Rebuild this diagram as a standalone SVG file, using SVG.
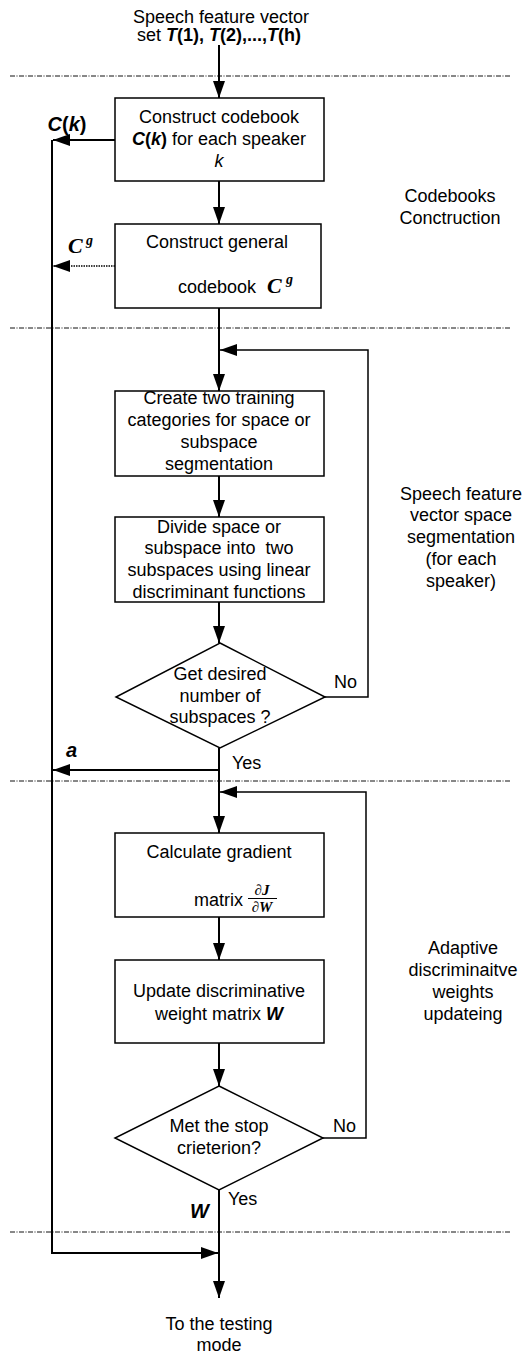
<svg xmlns="http://www.w3.org/2000/svg" width="527" height="1355" viewBox="0 0 527 1355">
<style>
text{font-family:"Liberation Sans",Arial,Helvetica,sans-serif;font-size:18px;fill:#000;text-anchor:middle}
.box{fill:#fff;stroke:#000;stroke-width:1.5}
.ln{fill:none;stroke:#000;stroke-width:2}
.thin{fill:none;stroke:#000;stroke-width:1.5}
.sep{fill:none;stroke:#111;stroke-width:1;stroke-dasharray:5 1.5 1 1.5}
.bi{font-weight:bold;font-style:italic}
.b{font-weight:bold}
.tm{font-family:"Liberation Serif","Times New Roman",serif;font-weight:bold;font-style:italic}
.l{text-anchor:start}
</style>
<defs>
<marker id="ah" markerUnits="userSpaceOnUse" markerWidth="17" markerHeight="12" refX="17" refY="6" orient="auto">
<path d="M0,0 L17,6 L0,12 z" fill="#000"/>
</marker>
</defs>
<g id="separators">
<line class="sep" x1="10" y1="76" x2="510" y2="76"/>
<line class="sep" x1="10" y1="328" x2="510" y2="328"/>
<line class="sep" x1="10" y1="781" x2="510" y2="781"/>
<line class="sep" x1="10" y1="1232" x2="510" y2="1232"/>
</g>
<g id="connectors">
<path class="ln" d="M219,45 V98" marker-end="url(#ah)"/>
<path class="ln" d="M219,181 V224" marker-end="url(#ah)"/>
<path class="ln" d="M219,308 V391" marker-end="url(#ah)"/>
<path class="thin" d="M325,697 H368 V350 H220" marker-end="url(#ah)"/>
<path class="ln" d="M219,476 V517" marker-end="url(#ah)"/>
<path class="ln" d="M219,602 V643" marker-end="url(#ah)"/>
<path class="ln" d="M219,748 V833" marker-end="url(#ah)"/>
<path class="ln" d="M219,770 H53" marker-end="url(#ah)"/>
<path class="thin" d="M323,1138 H366 V792 H220" marker-end="url(#ah)"/>
<path class="ln" d="M219,917 V960" marker-end="url(#ah)"/>
<path class="ln" d="M219,1043 V1086" marker-end="url(#ah)"/>
<path class="ln" d="M219,1190 V1298" marker-end="url(#ah)"/>
<path class="ln" d="M52,140 V1253 H218" marker-end="url(#ah)"/>
<path class="ln" d="M115,140 H53" marker-end="url(#ah)"/>
<path fill="none" stroke="#000" stroke-width="1.5" stroke-dasharray="1.5 1" d="M115,266 H53" marker-end="url(#ah)"/>
</g>
<g id="input">
<text x="221" y="23">Speech feature vector</text>
<text x="219" y="41">set <tspan class="bi">T</tspan><tspan class="b">(1), </tspan><tspan class="bi">T</tspan><tspan class="b">(2),...,</tspan><tspan class="bi">T</tspan><tspan class="b">(h)</tspan></text>
</g>
<g id="label-ck">
<text x="67" y="131" style="font-size:20px"><tspan class="bi">C</tspan><tspan class="b">(</tspan><tspan class="bi">k</tspan><tspan class="b">)</tspan></text>
</g>
<g id="box1">
<rect class="box" x="115" y="98" width="209" height="83"/>
<text x="219" y="123">Construct codebook</text>
<text x="219" y="145"><tspan class="bi">C</tspan><tspan class="b">(</tspan><tspan class="bi">k</tspan><tspan class="b">)</tspan> for each speaker</text>
<text x="219" y="167" font-style="italic">k</text>
</g>
<g id="label-cg">
<text class="tm l" x="68" y="253" style="font-size:22px">C</text>
<text class="tm l" x="86" y="245" style="font-size:14px">g</text>
</g>
<g id="box2">
<rect class="box" x="115" y="224" width="206" height="84"/>
<text x="217" y="248">Construct general</text>
<text class="l" x="178" y="293">codebook</text>
<text class="tm l" x="267" y="293" style="font-size:22px">C</text>
<text class="tm l" x="286" y="284" style="font-size:14px">g</text>
</g>
<g id="section1-label">
<text x="450" y="202">Codebooks</text>
<text x="450" y="224">Conctruction</text>
</g>
<g id="box3">
<rect class="box" x="115" y="391" width="209" height="85"/>
<text x="219" y="404">Create two training</text>
<text x="219" y="426">categories for space or</text>
<text x="219" y="448">subspace</text>
<text x="219" y="470">segmentation</text>
</g>
<g id="box4">
<rect class="box" x="115" y="517" width="209" height="85"/>
<text x="219" y="533">Divide space or</text>
<text x="219" y="554" xml:space="preserve">subspace into  two</text>
<text x="219" y="576">subspaces using linear</text>
<text x="219" y="598">discriminant functions</text>
</g>
<g id="section2-label">
<text x="461" y="500">Speech feature</text>
<text x="461" y="521">vector space</text>
<text x="461" y="543">segmentation</text>
<text x="461" y="565">(for each</text>
<text x="461" y="587">speaker)</text>
</g>
<g id="diamond1">
<polygon class="box" points="220,643 325,697 220,748 116,697"/>
<text x="220" y="680">Get desired</text>
<text x="220" y="702">number of</text>
<text x="220" y="723">subspaces ?</text>
<text class="l" x="334" y="688">No</text>
<text class="l" x="232" y="769">Yes</text>
</g>
<g id="label-a">
<text class="bi l" x="66" y="757" style="font-size:20px">a</text>
</g>
<g id="box5">
<rect class="box" x="115" y="833" width="209" height="84"/>
<text x="219" y="858">Calculate gradient</text>
<text class="l" x="194" y="906">matrix</text>
<text class="tm" x="262" y="895" style="font-size:15px">∂J</text>
<line x1="248" y1="898.5" x2="277" y2="898.5" stroke="#000" stroke-width="1"/>
<text class="tm" x="262" y="912" style="font-size:15px">∂W</text>
</g>
<g id="box6">
<rect class="box" x="115" y="960" width="209" height="83"/>
<text x="219" y="997">Update discriminative</text>
<text x="219" y="1020">weight matrix <tspan class="bi">W</tspan></text>
</g>
<g id="section3-label">
<text x="463" y="954">Adaptive</text>
<text x="463" y="976">discriminaitve</text>
<text x="463" y="998">weights</text>
<text x="463" y="1020">updateing</text>
</g>
<g id="diamond2">
<polygon class="box" points="219,1086 323,1138 219,1190 115,1138"/>
<text x="219" y="1132">Met the stop</text>
<text x="219" y="1154">crieterion?</text>
<text class="l" x="333" y="1132">No</text>
<text class="l" x="228" y="1205">Yes</text>
</g>
<g id="label-w">
<text class="bi l" x="190" y="1218" style="font-size:20px">W</text>
</g>
<g id="output">
<text x="219" y="1330">To the testing</text>
<text x="219" y="1351">mode</text>
</g>
</svg>
